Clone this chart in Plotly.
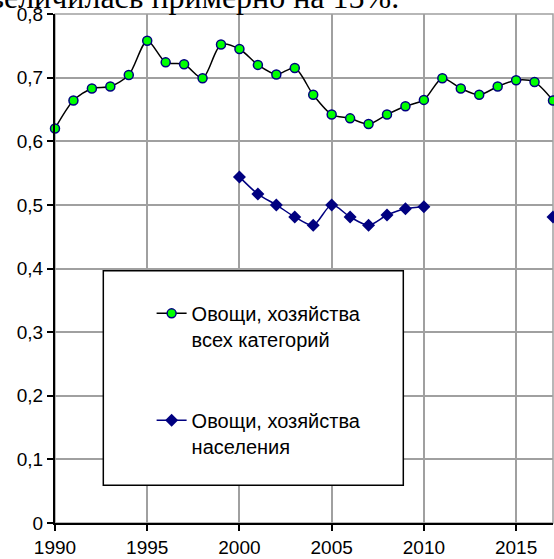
import plotly.graph_objects as go

years = list(range(1990, 2018))
veg_all = [0.620, 0.664, 0.683, 0.686, 0.704, 0.758, 0.724, 0.721, 0.699, 0.752,
           0.745, 0.720, 0.705, 0.715, 0.673, 0.642, 0.636, 0.627, 0.642, 0.655,
           0.665, 0.699, 0.683, 0.673, 0.686, 0.696, 0.693, 0.664]
veg_hh = [None] * 10 + [0.544, 0.517, 0.500, 0.481, 0.468, 0.500, 0.481, 0.468,
                        0.484, 0.494, 0.497, None, None, None, None, None, None, 0.481]

name_all = "Овощи, хозяйства<br>всех категорий"
name_hh = "Овощи, хозяйства<br>населения"

x_ticks = [1990, 1995, 2000, 2005, 2010, 2015]
y_ticks = [0, 0.1, 0.2, 0.3, 0.4, 0.5, 0.6, 0.7, 0.8]
y_ticktext = ["0", "0,1", "0,2", "0,3", "0,4", "0,5", "0,6", "0,7", "0,8"]

title_text = "увеличилась примерно на 15%."

fig = go.Figure()
fig.add_trace(go.Scatter(
    x=years, y=veg_all, name=name_all, mode="lines+markers",
    line=dict(color="black", width=1.5, shape="spline", smoothing=0.8),
    marker=dict(symbol="circle", size=9, color="#00ff00",
                line=dict(color="#000080", width=1.5)),
    legendgroup="a", cliponaxis=False,
))
fig.add_trace(go.Scatter(
    x=years, y=veg_hh, name=name_hh, mode="lines+markers",
    line=dict(color="#000080", width=1.5, shape="spline", smoothing=0.8),
    marker=dict(symbol="diamond", size=10, color="#000080",
                line=dict(color="#000080", width=0)),
    legendgroup="b", connectgaps=False, cliponaxis=False,
))

FONT = "Liberation Sans, Arial, sans-serif"

fig.update_layout(
    width=554, height=559,
    margin=dict(l=55, r=1, t=14, b=33, pad=0),
    paper_bgcolor="white", plot_bgcolor="white",
    font=dict(family=FONT, size=19, color="black"),
    showlegend=True,
    legend=dict(
        x=0.194, y=0.4502, xanchor="left", yanchor="top",
        bgcolor="rgba(0,0,0,0)", borderwidth=0,
        font=dict(family=FONT, size=20, color="black"),
        traceorder="grouped", tracegroupgap=52, valign="top",
    ),
    xaxis=dict(
        range=[1990, 2017], tickvals=x_ticks,
        showgrid=True, gridcolor="#a0a0a0", gridwidth=1.5,
        showline=True, linecolor="black", linewidth=2,
        ticks="outside", ticklen=6, tickwidth=1.5, tickcolor="black",
        zeroline=False, tickfont=dict(size=19),
    ),
    yaxis=dict(
        range=[0, 0.8], tickvals=y_ticks, ticktext=y_ticktext,
        showgrid=True, gridcolor="#a0a0a0", gridwidth=1.5,
        showline=True, linecolor="black", linewidth=2,
        ticks="outside", ticklen=6, tickwidth=1.5, tickcolor="black",
        zeroline=False, tickfont=dict(size=19),
    ),
    shapes=[
        dict(type="rect", xref="paper", yref="paper", x0=0, x1=1, y0=0, y1=1,
             line=dict(color="#a0a0a0", width=1.5), layer="below"),
        dict(type="rect", xref="paper", yref="paper",
             x0=0.097, x1=0.6994, y0=0.0742, y1=0.4957,
             line=dict(color="black", width=1.5), fillcolor="white", layer="above"),
    ],
    annotations=[
        dict(text=title_text, xref="paper", yref="paper", x=0.694, y=0.9938,
             xanchor="right", yanchor="bottom", showarrow=False,
             font=dict(family="Liberation Serif, Times New Roman, serif", size=32, color="black")),
    ],
)

fig.write_html("out.html", config={"displayModeBar": False},
               post_script="document.body.style.margin='0';document.body.style.overflow='hidden';")
